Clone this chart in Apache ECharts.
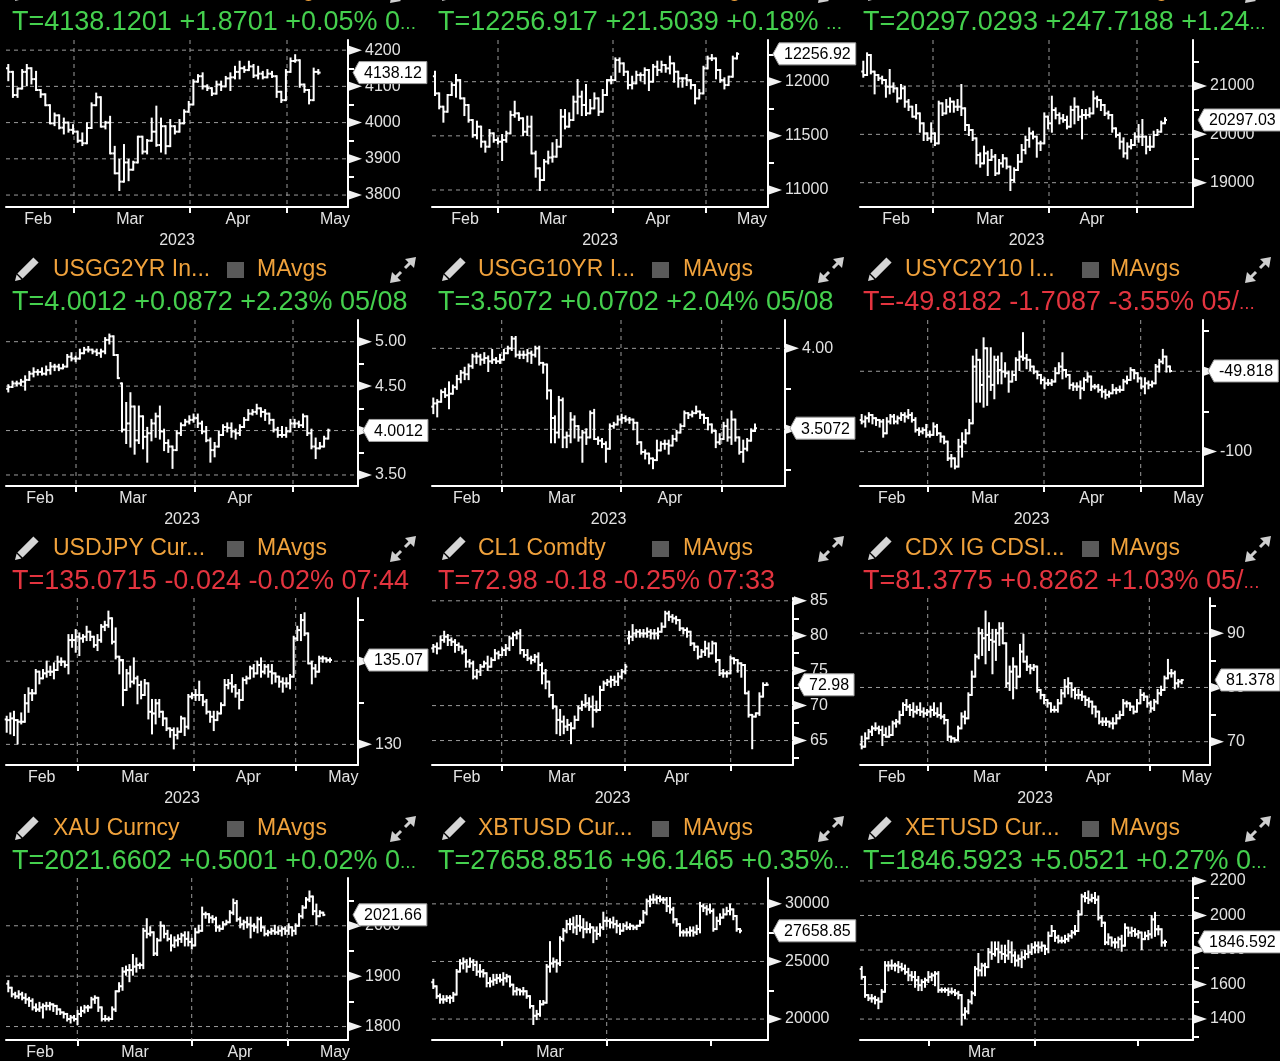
<!DOCTYPE html>
<html><head><meta charset="utf-8">
<script src="https://cdn.jsdelivr.net/npm/echarts@6/dist/echarts.min.js"></script>
<style>html,body{margin:0;padding:0;background:#000;overflow:hidden}#c{width:1280px;height:1061px}</style>
</head><body><div id="c"></div>
<script>
// ===== DATA: daily bars [open, high, low, close] =====
const spxBars = [[4150,4159,4117,4140],[4140,4140,4071,4076],[4076,4094,4071,4094],[4094,4145,4094,4140],[4140,4159,4103,4150],[4150,4150,4108,4120],[4120,4140,4090,4090],[4090,4090,4071,4078],[4078,4078,4048,4048],[4048,4048,3998,3998],[3998,4025,3993,4020],[4020,4020,3984,3986],[3986,4011,3970,4000],[4000,4000,3975,3980],[3980,3993,3970,3975],[3975,3975,3947,3950],[3950,3970,3938,3943],[3943,3998,3943,3985],[3985,4053,3985,4048],[4048,4080,4048,4070],[4070,4070,3989,3989],[3989,4002,3984,4000],[4000,4016,3915,3915],[3915,3933,3860,3860],[3860,3897,3814,3837],[3837,3938,3837,3890],[3890,3897,3841,3870],[3870,3892,3870,3890],[3890,3961,3890,3961],[3961,3961,3915,3920],[3920,3952,3915,3950],[3950,4011,3950,3975],[3975,4044,3936,3938],[3938,4011,3920,3990],[3990,3990,3915,3935],[3935,4007,3935,3990],[3990,3990,3970,3975],[3975,4007,3975,3998],[3998,4034,3998,4030],[4030,4057,4030,4050],[4050,4117,4050,4113],[4113,4131,4113,4128],[4128,4136,4094,4100],[4100,4103,4090,4095],[4095,4095,4076,4080],[4080,4113,4080,4105],[4105,4113,4090,4100],[4100,4126,4100,4122],[4122,4136,4090,4125],[4125,4154,4122,4140],[4140,4168,4122,4150],[4150,4154,4140,4145],[4145,4168,4145,4155],[4155,4159,4126,4130],[4130,4154,4122,4135],[4135,4140,4122,4125],[4125,4145,4125,4135],[4135,4140,4126,4128],[4128,4128,4071,4085],[4085,4085,4057,4062],[4062,4145,4062,4140],[4140,4177,4140,4170],[4170,4186,4168,4172],[4172,4172,4099,4105],[4105,4105,4085,4090],[4090,4090,4053,4062],[4062,4149,4062,4140],[4140,4145,4135,4138]];
const ccmpBars = [[12050,12092,11877,11892],[11892,11892,11754,11769],[11769,11769,11631,11723],[11723,11877,11723,11877],[11877,11985,11877,11969],[11969,12062,11862,12015],[12015,12015,11846,11846],[11846,11846,11692,11785],[11785,11785,11631,11646],[11646,11646,11492,11508],[11508,11631,11477,11585],[11585,11585,11400,11446],[11446,11446,11354,11400],[11400,11554,11400,11523],[11523,11523,11446,11462],[11462,11477,11431,11446],[11446,11508,11277,11462],[11462,11538,11446,11523],[11523,11723,11523,11692],[11692,11815,11677,11708],[11708,11708,11646,11662],[11662,11662,11508,11538],[11538,11677,11508,11585],[11585,11677,11338,11338],[11338,11354,11123,11200],[11200,11200,11000,11092],[11092,11277,11092,11262],[11262,11354,11246,11300],[11300,11431,11262,11308],[11308,11462,11308,11400],[11400,11738,11400,11677],[11677,11738,11569,11585],[11585,11708,11585,11646],[11646,11862,11646,11815],[11815,12015,11708,11862],[11862,11908,11692,11785],[11785,11969,11692,11708],[11708,11831,11708,11754],[11754,11892,11754,11846],[11846,11846,11692,11723],[11723,11923,11723,11877],[11877,12015,11877,12015],[12015,12046,11985,12015],[12015,12215,12015,12200],[12200,12215,12092,12169],[12169,12169,12062,12092],[12092,12092,11938,11969],[11969,12046,11938,11985],[11985,12092,11985,12062],[12062,12077,12015,12062],[12062,12123,11985,12108],[12108,12108,11923,12000],[12000,12154,12000,12138],[12138,12185,12062,12108],[12108,12185,12092,12154],[12154,12154,12092,12123],[12123,12231,12077,12169],[12169,12169,12000,12092],[12092,12092,11954,12031],[12031,12031,11954,12031],[12031,12062,11969,12015],[12015,12015,11938,11969],[11969,11969,11800,11846],[11846,11923,11846,11892],[11892,12138,11892,12123],[12123,12231,12123,12215],[12215,12246,12200,12215],[12215,12215,12031,12108],[12108,12108,11999,12015],[12015,12031,11938,11969],[11969,12046,11969,12046],[12046,12231,12046,12215],[12215,12262,12215,12257]];
const hsiBars = [[21300,21503,21193,21228],[21228,21676,21400,21641],[21641,21607,21262,21297],[21297,21297,20848,21228],[21228,21228,21124,21159],[21159,21193,21055,21124],[21124,21090,20779,20986],[20986,21331,20848,20986],[20986,21055,20883,20952],[20952,20917,20676,20745],[20745,21021,20745,20952],[20952,20986,20572,20676],[20676,20710,20503,20572],[20572,20572,20366,20366],[20366,20607,20331,20434],[20434,20262,20055,20228],[20228,20159,19883,20021],[20021,20021,19883,19917],[19917,20228,19848,20021],[20021,20021,19779,19814],[19814,20676,19814,20641],[20641,20641,20400,20434],[20434,20710,20503,20572],[20572,20745,20469,20676],[20676,20676,20469,20572],[20572,20710,20503,20572],[20572,21021,20400,20538],[20538,20262,20090,20193],[20193,20193,19986,20090],[20090,20090,19883,19917],[19917,19641,19400,19572],[19572,19607,19331,19400],[19400,19745,19469,19607],[19607,19641,19159,19469],[19469,19676,19503,19538],[19538,19572,19159,19193],[19193,19469,19193,19400],[19400,19572,19331,19503],[19503,19503,19297,19331],[19331,19331,18848,19055],[19055,19297,19021,19262],[19262,19572,19400,19434],[19434,19779,19503,19676],[19676,19952,19607,19883],[19883,20124,19745,20021],[20021,20055,19917,19952],[19952,19952,19538,19814],[19814,19848,19676,19814],[19814,20434,20228,20366],[20366,20331,20124,20228],[20228,20779,20055,20503],[20503,20538,20331,20400],[20400,20434,20228,20331],[20331,20400,20262,20297],[20297,20366,20124,20159],[20159,20572,20331,20503],[20503,20745,20228,20572],[20572,20400,20297,20366],[20366,20503,19917,20400],[20400,20503,20331,20400],[20400,20538,20366,20434],[20434,20883,20434,20745],[20745,20779,20572,20710],[20710,20641,20503,20607],[20607,20572,20400,20434],[20434,20469,20331,20400],[20400,20262,20055,20124],[20124,20124,19952,19986],[19986,20021,19710,19848],[19848,19917,19538,19607],[19607,19814,19503,19745],[19745,19883,19710,19779],[19779,20021,19883,19952],[19952,20193,19848,19952],[19952,20297,19779,19952],[19952,19952,19607,19745],[19745,19952,19676,19745],[19745,20055,19883,19986],[19986,20090,19986,20055],[20055,20262,20090,20228],[20228,20331,20297,20297]];
const usgg2Bars = [[4.47,4.51,4.44,4.49],[4.49,4.55,4.49,4.53],[4.53,4.55,4.51,4.53],[4.53,4.57,4.51,4.55],[4.55,4.61,4.46,4.57],[4.57,4.66,4.59,4.64],[4.64,4.70,4.61,4.66],[4.66,4.68,4.63,4.66],[4.66,4.70,4.63,4.64],[4.64,4.72,4.63,4.68],[4.68,4.76,4.64,4.72],[4.72,4.74,4.68,4.72],[4.72,4.74,4.68,4.70],[4.70,4.74,4.70,4.72],[4.72,4.85,4.74,4.83],[4.83,4.87,4.79,4.81],[4.81,4.83,4.78,4.81],[4.81,4.91,4.81,4.87],[4.87,4.93,4.87,4.91],[4.91,4.94,4.89,4.91],[4.91,4.91,4.87,4.89],[4.89,4.91,4.85,4.87],[4.87,4.91,4.83,4.89],[4.89,5.04,4.87,5.02],[5.02,5.08,4.98,5.06],[5.06,5.06,4.85,4.85],[4.85,4.85,4.59,4.59],[4.53,4.53,3.99,4.01],[4.01,4.31,3.86,4.08],[4.08,4.42,3.82,4.27],[4.27,4.04,3.74,3.89],[3.89,4.27,3.86,4.16],[4.16,4.16,3.80,3.93],[3.93,4.03,3.65,3.97],[3.97,4.12,3.89,4.08],[4.08,4.19,3.93,4.16],[4.16,4.27,3.91,3.99],[3.99,4.01,3.78,3.86],[3.86,3.89,3.76,3.82],[3.82,3.82,3.58,3.78],[3.78,3.99,3.78,3.97],[3.97,4.08,3.95,4.06],[4.06,4.12,4.06,4.10],[4.10,4.16,4.08,4.12],[4.12,4.18,4.10,4.14],[4.14,4.18,4.04,4.08],[4.08,4.10,3.97,3.99],[3.99,4.04,3.88,3.89],[3.89,3.91,3.65,3.78],[3.78,3.86,3.71,3.82],[3.82,3.99,3.82,3.95],[3.95,4.06,3.95,4.04],[4.04,4.08,3.99,4.03],[4.03,4.08,3.93,3.99],[3.99,4.01,3.91,3.97],[3.97,4.06,3.95,4.04],[4.04,4.14,4.04,4.12],[4.12,4.23,4.12,4.19],[4.19,4.23,4.18,4.21],[4.21,4.29,4.19,4.25],[4.25,4.25,4.16,4.21],[4.21,4.23,4.12,4.19],[4.19,4.19,4.08,4.12],[4.12,4.12,3.99,4.01],[4.01,4.03,3.93,3.95],[3.95,4.04,3.93,3.95],[3.95,4.03,3.93,3.99],[3.99,4.12,3.99,4.08],[4.08,4.12,4.04,4.08],[4.08,4.10,4.04,4.06],[4.06,4.18,4.04,4.16],[4.16,4.16,3.95,3.97],[3.97,4.01,3.80,3.82],[3.82,3.91,3.69,3.80],[3.80,3.86,3.80,3.82],[3.82,3.93,3.82,3.91],[3.91,4.01,3.91,4.0012]];
const usgg10Bars = [[3.64,3.69,3.60,3.66],[3.66,3.68,3.58,3.67],[3.67,3.74,3.67,3.73],[3.73,3.75,3.70,3.71],[3.71,3.79,3.63,3.72],[3.72,3.77,3.72,3.76],[3.76,3.83,3.75,3.81],[3.81,3.86,3.79,3.85],[3.85,3.88,3.81,3.84],[3.84,3.90,3.81,3.89],[3.89,3.96,3.88,3.95],[3.95,3.97,3.91,3.95],[3.95,3.96,3.90,3.93],[3.93,3.97,3.91,3.94],[3.94,3.95,3.86,3.92],[3.92,3.99,3.91,3.93],[3.93,3.94,3.91,3.92],[3.92,3.96,3.91,3.93],[3.93,3.99,3.93,3.97],[3.97,4.01,3.97,4.00],[4.00,4.07,3.99,4.06],[4.06,4.07,3.95,3.96],[3.96,3.98,3.94,3.96],[3.96,3.98,3.94,3.96],[3.96,3.99,3.92,3.97],[3.97,3.98,3.91,3.96],[3.96,4.01,3.95,4.00],[4.00,4.01,3.90,3.91],[3.91,3.91,3.85,3.90],[3.90,3.76,3.69,3.74],[3.74,3.70,3.42,3.57],[3.57,3.58,3.42,3.48],[3.48,3.70,3.45,3.68],[3.68,3.69,3.39,3.45],[3.45,3.48,3.39,3.46],[3.46,3.60,3.42,3.56],[3.56,3.58,3.45,3.52],[3.52,3.52,3.43,3.45],[3.45,3.49,3.30,3.48],[3.48,3.50,3.41,3.45],[3.45,3.61,3.45,3.60],[3.60,3.62,3.44,3.44],[3.44,3.45,3.41,3.43],[3.43,3.44,3.39,3.41],[3.41,3.42,3.30,3.38],[3.38,3.53,3.38,3.52],[3.52,3.54,3.51,3.53],[3.53,3.58,3.53,3.56],[3.56,3.59,3.54,3.57],[3.57,3.58,3.55,3.56],[3.56,3.57,3.54,3.56],[3.56,3.56,3.50,3.54],[3.54,3.54,3.41,3.42],[3.42,3.42,3.35,3.36],[3.36,3.37,3.32,3.35],[3.35,3.35,3.29,3.32],[3.32,3.32,3.26,3.31],[3.31,3.43,3.31,3.37],[3.37,3.42,3.37,3.41],[3.41,3.43,3.38,3.41],[3.41,3.43,3.35,3.40],[3.40,3.46,3.40,3.44],[3.44,3.49,3.43,3.48],[3.48,3.53,3.48,3.52],[3.52,3.61,3.52,3.60],[3.60,3.60,3.57,3.59],[3.59,3.61,3.58,3.60],[3.60,3.64,3.60,3.61],[3.61,3.61,3.57,3.59],[3.59,3.59,3.54,3.57],[3.57,3.57,3.50,3.53],[3.53,3.53,3.48,3.49],[3.49,3.49,3.39,3.42],[3.42,3.47,3.41,3.44],[3.44,3.54,3.44,3.52],[3.52,3.56,3.43,3.45],[3.45,3.61,3.41,3.56],[3.56,3.56,3.43,3.45],[3.45,3.45,3.35,3.36],[3.36,3.43,3.30,3.38],[3.38,3.44,3.37,3.43],[3.43,3.50,3.43,3.49],[3.49,3.53,3.49,3.5072]];
const usycBars = [[-80.3,-77.2,-82.4,-81.3],[-81.3,-78.2,-84.4,-79.2],[-79.2,-76.1,-81.3,-77.2],[-77.2,-77.2,-82.4,-79.2],[-79.2,-79.2,-83.4,-80.3],[-80.3,-80.3,-84.4,-81.3],[-81.3,-80.3,-90.7,-88.6],[-88.6,-79.2,-87.5,-81.3],[-81.3,-77.2,-82.4,-78.2],[-78.2,-77.2,-82.4,-81.3],[-81.3,-78.2,-82.4,-79.2],[-79.2,-76.1,-80.3,-77.2],[-77.2,-76.1,-81.3,-78.2],[-78.2,-74.1,-79.2,-77.2],[-77.2,-76.1,-81.3,-80.3],[-80.3,-79.2,-87.5,-86.5],[-86.5,-85.5,-89.6,-87.5],[-87.5,-85.5,-88.6,-86.5],[-86.5,-83.4,-90.7,-89.6],[-89.6,-87.5,-90.7,-89.6],[-89.6,-82.4,-89.6,-84.4],[-84.4,-83.4,-89.6,-88.6],[-88.6,-88.6,-93.8,-90.7],[-90.7,-90.7,-94.8,-93.8],[-93.8,-93.8,-105.2,-104.2],[-104.2,-102.1,-109.3,-104.2],[-104.2,-104.2,-110.4,-109.3],[-109.3,-92.7,-106.2,-96.9],[-96.9,-88.6,-103.1,-93.8],[-93.8,-86.5,-94.8,-88.6],[-88.6,-80.3,-88.6,-82.4],[-82.4,-40.9,-82.4,-47.1],[-47.1,-36.7,-68.9,-42.9],[-42.9,-54.4,-68.9,-58.5],[-58.5,-29.5,-72.0,-35.7],[-35.7,-39.8,-70.9,-53.3],[-53.3,-35.7,-61.6,-58.5],[-58.5,-40.9,-66.8,-42.9],[-42.9,-40.9,-57.5,-49.2],[-49.2,-38.8,-57.5,-50.2],[-50.2,-45.0,-53.3,-51.2],[-51.2,-50.2,-62.7,-56.4],[-56.4,-50.2,-55.4,-52.3],[-52.3,-41.9,-55.4,-42.9],[-42.9,-37.8,-49.2,-40.9],[-40.9,-26.3,-42.9,-41.9],[-41.9,-39.8,-48.1,-42.9],[-42.9,-44.0,-49.2,-47.1],[-47.1,-47.1,-51.2,-50.2],[-50.2,-50.2,-54.4,-52.3],[-52.3,-52.3,-57.5,-55.4],[-55.4,-54.4,-60.6,-57.5],[-57.5,-55.4,-58.5,-57.5],[-57.5,-55.4,-58.5,-56.4],[-56.4,-48.1,-54.4,-51.2],[-51.2,-45.0,-51.2,-47.1],[-47.1,-38.8,-54.4,-49.2],[-49.2,-50.2,-53.3,-52.3],[-52.3,-56.4,-60.6,-58.5],[-58.5,-57.5,-61.6,-59.5],[-59.5,-57.5,-61.6,-59.5],[-59.5,-56.4,-66.8,-60.6],[-60.6,-54.4,-61.6,-55.4],[-55.4,-51.2,-56.4,-53.3],[-53.3,-54.4,-61.6,-59.5],[-59.5,-58.5,-60.6,-59.5],[-59.5,-58.5,-62.7,-61.6],[-61.6,-59.5,-65.8,-62.7],[-62.7,-61.6,-66.8,-64.7],[-64.7,-62.7,-65.8,-63.7],[-63.7,-58.5,-63.7,-61.6],[-61.6,-60.6,-63.7,-61.6],[-61.6,-59.5,-62.7,-61.6],[-61.6,-55.4,-60.6,-56.4],[-56.4,-53.3,-57.5,-55.4],[-55.4,-48.1,-53.3,-49.2],[-49.2,-49.2,-54.4,-51.2],[-51.2,-51.2,-56.4,-54.4],[-54.4,-54.4,-60.6,-59.5],[-59.5,-54.4,-63.7,-57.5],[-57.5,-56.4,-60.6,-58.5],[-58.5,-56.4,-59.5,-57.5],[-57.5,-46.1,-57.5,-47.1],[-47.1,-42.9,-50.2,-44.0],[-44.0,-36.7,-45.0,-40.9],[-40.9,-41.9,-50.2,-47.1],[-47.1,-48.1,-50.2,-49.8]];
const jpyBars = [[131.50,131.66,130.76,131.46],[131.46,131.86,130.66,131.56],[131.56,131.96,130.56,131.46],[131.46,131.46,130.06,131.36],[131.36,131.86,131.26,131.36],[131.36,132.97,131.66,132.47],[132.47,133.37,131.96,133.07],[133.07,133.27,132.67,133.07],[133.07,134.47,133.47,134.37],[134.37,134.07,133.67,133.97],[133.97,134.47,134.07,134.27],[134.27,134.97,134.07,134.37],[134.37,134.67,134.17,134.37],[134.37,134.87,133.97,134.47],[134.47,135.27,134.67,134.97],[134.97,135.17,134.77,134.97],[134.97,134.97,134.67,134.77],[134.77,136.57,134.27,136.27],[136.27,136.57,135.87,136.27],[136.27,136.87,135.57,136.47],[136.47,136.67,135.37,136.37],[136.37,136.57,136.17,136.47],[136.47,137.07,136.27,136.77],[136.77,136.77,136.27,136.47],[136.47,136.27,135.87,135.97],[135.97,136.57,135.67,136.27],[136.27,137.17,136.17,137.07],[137.07,137.37,136.87,137.17],[137.17,137.98,137.07,137.58],[137.58,137.47,136.07,136.17],[136.17,136.97,135.17,135.27],[135.27,135.17,134.27,135.07],[135.07,135.07,132.36,133.27],[133.27,134.47,133.27,134.27],[134.27,134.67,133.47,133.77],[133.77,135.17,133.67,133.97],[133.97,134.07,132.47,133.57],[133.57,133.77,132.77,132.97],[132.97,133.87,133.27,133.67],[133.67,132.47,131.56,131.96],[131.96,132.67,130.66,131.86],[131.86,132.67,131.26,132.47],[132.47,132.67,131.66,131.96],[131.96,131.96,131.16,131.56],[131.56,131.56,130.86,130.96],[130.96,130.96,130.46,130.86],[130.86,130.96,129.76,130.56],[130.56,130.96,130.36,130.76],[130.76,131.66,131.06,131.56],[131.56,131.56,130.56,131.06],[131.06,132.97,130.96,132.87],[132.87,133.07,132.77,132.97],[132.97,133.27,132.67,132.97],[132.97,133.77,132.67,132.97],[132.97,132.97,132.36,132.57],[132.57,132.67,131.86,131.96],[131.96,131.96,131.36,131.66],[131.66,131.96,130.86,131.46],[131.46,131.96,131.56,131.86],[131.86,132.47,131.96,132.36],[132.36,133.87,132.77,133.57],[133.57,133.87,133.37,133.67],[133.67,134.17,133.17,133.47],[133.47,133.57,132.87,133.07],[133.07,133.27,132.16,132.67],[132.67,133.97,133.57,133.87],[133.87,134.07,133.67,133.97],[133.97,134.67,134.07,134.57],[134.57,134.77,134.07,134.27],[134.27,134.97,134.57,134.77],[134.77,135.17,134.07,134.37],[134.37,134.77,134.27,134.67],[134.67,134.77,134.07,134.37],[134.37,134.77,133.67,134.27],[134.27,134.27,133.77,134.07],[134.07,134.07,133.47,133.77],[133.77,133.97,133.17,133.67],[133.67,133.97,133.47,133.67],[133.67,134.17,133.37,134.07],[134.07,136.47,134.07,136.37],[136.37,137.07,136.27,136.87],[136.87,137.78,136.27,137.47],[137.47,137.88,136.57,136.67],[136.67,136.67,134.87,134.87],[134.87,134.97,133.67,134.57],[134.57,134.77,134.07,134.37],[134.37,135.27,134.67,135.17],[135.17,135.27,134.97,135.17],[135.17,135.17,134.97,135.07],[135.07,135.17,134.97,135.07]];
const cl1Bars = [[78.20,78.67,77.71,78.43],[78.43,78.90,77.48,78.19],[78.19,79.86,78.67,79.38],[79.38,80.57,79.14,79.86],[79.86,80.10,78.67,79.38],[79.38,79.62,78.67,79.14],[79.14,79.38,77.71,78.67],[78.67,78.90,77.95,78.43],[78.43,78.43,77.48,77.71],[77.71,77.95,75.57,76.29],[76.29,76.52,75.57,76.05],[76.05,76.29,73.90,74.14],[74.14,75.10,73.90,74.86],[74.86,75.81,74.38,75.57],[75.57,76.29,75.57,76.05],[76.05,77.00,75.10,75.57],[75.57,76.76,75.81,76.52],[76.52,77.95,76.52,77.48],[77.48,77.71,76.76,77.24],[77.24,78.19,77.24,77.95],[77.95,78.67,77.24,78.19],[78.19,79.86,77.95,79.62],[79.62,80.33,78.67,80.10],[80.10,80.57,79.62,80.33],[80.33,80.81,77.48,77.95],[77.95,77.95,77.00,77.24],[77.24,77.95,76.52,76.76],[76.76,77.00,76.05,76.52],[76.52,77.24,76.29,77.00],[77.00,77.48,75.10,75.81],[75.81,76.05,73.19,74.62],[74.62,75.10,72.48,73.43],[73.43,73.19,71.29,71.52],[71.52,71.52,69.62,69.86],[69.86,69.86,66.05,67.95],[67.95,69.38,65.81,67.71],[67.71,68.43,66.05,67.00],[67.00,67.95,66.52,67.24],[67.24,67.48,64.62,66.76],[66.76,68.43,67.00,67.95],[67.95,69.86,68.90,69.62],[69.62,70.57,69.38,70.10],[70.10,71.52,69.86,70.33],[70.33,71.05,69.38,69.86],[69.86,71.29,67.00,69.38],[69.38,70.57,69.14,69.38],[69.38,72.71,70.57,72.24],[72.24,73.43,72.71,73.19],[73.19,73.67,72.95,73.43],[73.43,74.14,72.71,73.67],[73.67,74.14,72.95,73.43],[73.43,74.62,72.95,74.14],[74.14,75.10,73.90,74.86],[74.86,75.81,74.62,75.57],[79.62,80.57,78.90,79.86],[79.86,81.52,79.38,80.33],[80.33,80.81,79.86,80.57],[80.57,80.81,79.86,80.33],[80.33,80.81,79.86,80.33],[80.33,81.05,79.86,80.57],[80.57,80.81,79.62,80.33],[80.33,80.81,79.62,80.33],[80.33,81.05,79.62,80.57],[80.57,81.76,80.57,81.29],[81.29,83.43,81.52,83.19],[83.19,83.43,82.24,82.71],[82.71,82.95,82.00,82.48],[82.48,82.71,81.76,82.24],[82.24,82.00,80.81,81.05],[81.05,81.05,80.33,80.81],[80.81,81.05,79.86,80.57],[80.57,79.38,78.67,78.90],[78.90,78.90,77.95,78.43],[78.43,77.71,76.76,77.00],[77.00,77.95,77.00,77.71],[77.71,79.14,77.24,78.19],[78.19,78.90,77.00,77.48],[77.48,79.14,77.48,78.90],[78.90,77.71,76.29,76.52],[76.52,76.52,74.38,74.62],[74.62,75.10,74.14,74.62],[74.62,74.86,74.14,74.62],[74.62,77.00,75.10,76.76],[76.76,76.76,76.05,76.52],[76.52,76.29,74.86,76.05],[76.05,76.05,74.14,75.81],[75.81,75.81,71.76,71.76],[71.76,72.00,68.43,68.67],[68.67,68.67,63.90,68.43],[68.43,68.90,68.67,68.90],[68.90,71.76,68.67,71.29],[71.29,73.19,71.52,72.95],[72.95,73.19,72.95,72.98]];
const cdxBars = [[69.50,70.92,68.77,69.08],[69.08,71.54,69.08,70.62],[70.62,72.15,70.62,71.85],[71.85,72.77,71.23,72.46],[72.46,73.38,72.15,72.46],[72.46,72.77,71.54,72.15],[72.15,72.77,69.38,71.23],[71.23,72.46,70.92,70.92],[70.92,72.77,70.92,71.23],[71.23,73.69,71.23,73.38],[73.38,74.00,72.77,73.69],[73.69,75.54,73.38,74.92],[74.92,77.08,74.92,76.77],[76.77,77.69,75.85,76.46],[76.46,76.77,74.92,75.85],[75.85,77.08,74.62,75.54],[75.54,76.46,75.23,75.85],[75.85,77.08,74.92,75.54],[75.54,76.15,74.62,75.23],[75.23,75.85,74.92,75.54],[75.54,76.46,74.62,75.85],[75.85,77.08,74.92,75.23],[75.23,76.15,74.62,74.92],[74.92,77.08,74.31,74.62],[74.62,74.92,73.38,74.00],[74.00,71.54,70.31,70.92],[70.92,70.92,70.00,70.62],[70.62,70.62,70.00,70.31],[70.31,72.77,70.31,72.46],[72.46,75.23,72.77,74.62],[74.62,75.54,73.38,74.31],[74.31,78.92,74.62,78.62],[78.62,82.92,78.62,82.00],[82.00,86.00,82.00,85.69],[85.69,90.92,85.38,90.00],[90.00,90.62,86.00,89.08],[89.08,94.00,84.46,89.69],[89.69,91.85,86.92,88.77],[88.77,90.62,82.62,88.46],[88.46,90.62,85.08,90.00],[90.00,91.85,87.85,90.92],[90.92,91.85,88.15,88.15],[88.15,85.08,80.15,80.77],[80.77,83.85,79.54,82.92],[82.92,85.38,78.00,83.85],[83.85,83.54,79.85,82.00],[82.00,87.85,83.23,86.62],[86.62,89.69,84.77,84.77],[84.77,85.69,83.23,83.85],[83.85,84.15,82.62,83.54],[83.54,84.15,83.23,83.85],[83.85,82.62,79.23,79.54],[79.54,79.54,78.00,78.62],[78.62,78.62,77.08,77.69],[77.69,77.69,76.46,77.08],[77.08,77.08,75.54,75.85],[75.85,76.46,75.54,75.85],[75.85,77.69,75.54,77.08],[77.08,79.54,77.08,78.92],[78.92,81.38,78.31,80.15],[80.15,81.69,78.92,80.77],[80.77,80.77,78.31,79.54],[79.54,79.85,78.00,78.62],[78.62,79.54,78.00,78.62],[78.62,79.23,77.69,78.31],[78.31,78.31,76.77,77.69],[77.69,78.00,76.46,77.38],[77.38,77.38,75.23,76.46],[76.46,76.46,74.62,75.54],[75.54,74.62,73.38,73.69],[73.69,74.31,73.08,73.69],[73.69,74.31,73.08,73.69],[73.69,73.69,72.77,73.38],[73.38,74.31,72.46,73.38],[73.38,74.92,73.69,74.31],[74.31,75.54,74.31,74.92],[74.92,77.69,76.15,77.08],[77.08,77.38,76.46,77.08],[77.08,77.08,75.85,76.46],[76.46,76.15,75.23,75.54],[75.54,77.69,75.54,77.08],[77.08,79.54,78.00,78.62],[78.62,78.92,77.69,78.31],[78.31,78.00,76.46,77.08],[77.08,77.38,75.54,76.15],[76.15,77.69,75.85,77.38],[77.38,79.54,77.08,78.92],[78.92,80.15,78.62,79.54],[79.54,82.00,79.54,81.69],[81.69,85.08,82.00,82.62],[82.62,83.23,82.00,82.62],[82.62,82.92,79.85,80.77],[80.77,81.38,80.15,81.08],[81.08,81.38,80.77,81.38]];
const xauBars = [[1885,1890,1870,1877],[1877,1873,1860,1864],[1864,1867,1857,1860],[1860,1870,1857,1864],[1864,1867,1854,1857],[1857,1864,1847,1854],[1854,1857,1841,1851],[1851,1854,1834,1838],[1838,1844,1831,1834],[1834,1847,1831,1838],[1838,1844,1818,1841],[1841,1847,1834,1841],[1841,1847,1834,1844],[1844,1844,1831,1841],[1841,1841,1825,1834],[1834,1834,1825,1828],[1828,1828,1818,1825],[1825,1821,1812,1815],[1815,1821,1808,1818],[1818,1821,1812,1815],[1815,1831,1805,1825],[1825,1838,1821,1831],[1831,1841,1828,1838],[1838,1841,1831,1838],[1838,1857,1841,1854],[1854,1860,1847,1857],[1857,1854,1831,1838],[1838,1838,1812,1815],[1815,1821,1812,1815],[1815,1818,1812,1815],[1815,1838,1815,1834],[1834,1870,1831,1870],[1870,1886,1870,1880],[1880,1916,1873,1909],[1909,1919,1903,1912],[1912,1922,1890,1912],[1912,1942,1903,1919],[1919,1935,1909,1922],[1922,1925,1916,1922],[1922,1994,1916,1990],[1990,2013,1977,1984],[1984,1997,1981,1987],[1987,1987,1942,1945],[1945,1974,1942,1971],[1971,2007,1984,2000],[2000,2000,1977,1984],[1984,1990,1971,1974],[1974,1981,1951,1961],[1961,1977,1958,1971],[1971,1981,1961,1974],[1974,1984,1968,1981],[1981,1987,1961,1974],[1974,1987,1961,1968],[1968,1974,1955,1961],[1961,1994,1964,1987],[1987,2000,1987,1990],[1990,2036,1997,2023],[2023,2026,2016,2023],[2023,2023,2007,2016],[2016,2019,2007,2013],[2013,2016,1990,1997],[1997,2000,1990,1994],[1994,2007,1994,2003],[2003,2010,2003,2007],[2007,2029,2007,2026],[2026,2052,2023,2045],[2045,2049,2010,2013],[2013,2016,1997,2003],[2003,2010,1994,2007],[2007,2016,1997,2003],[2003,2016,1977,2000],[2000,2003,1990,1997],[1997,2016,1987,2013],[2013,2016,1990,1997],[1997,1997,1981,1984],[1984,1990,1981,1987],[1987,1994,1984,1990],[1990,2000,1984,1987],[1987,1997,1984,1990],[1990,1997,1981,1994],[1994,1997,1984,1990],[1990,2003,1984,1997],[1997,1997,1981,1990],[1990,2003,1984,2000],[2000,2023,2000,2019],[2019,2039,2016,2036],[2036,2055,2036,2052],[2052,2068,2049,2058],[2058,2058,2023,2029],[2029,2042,2003,2019],[2019,2029,2019,2026],[2026,2026,2021,2021.66]];
const xbtBars = [[23200,23409,22699,22841],[22841,22841,21847,21989],[21989,22131,21420,21705],[21705,21989,21420,21705],[21705,21989,21562,21847],[21847,21989,21420,21847],[21847,22273,21562,22131],[22131,24261,22131,24119],[24119,25114,24119,24830],[24830,25256,24403,24972],[24972,25114,24119,24545],[24545,25256,24545,24972],[24972,25114,24261,24688],[24688,24972,23835,24119],[24119,24688,23693,24119],[24119,24261,23693,23977],[23977,23977,22841,23125],[23125,23551,22841,23267],[23267,23835,22983,23409],[23409,23835,23125,23551],[23551,23835,23267,23409],[23409,23977,22983,23551],[23551,23835,23267,23693],[23693,23693,22841,22983],[22983,22699,22131,22415],[22415,22699,22131,22557],[22557,22557,22131,22415],[22415,22699,22131,22415],[22415,22415,21847,21989],[21989,21989,20994,21136],[21136,20994,19574,20284],[20284,20710,20000,20426],[20426,21562,20284,21278],[21278,21562,21278,21420],[21420,24688,21420,24545],[24545,26676,24119,24830],[24830,25256,24545,24972],[24972,25114,24119,24830],[24830,27102,24688,26960],[26960,27812,26818,27670],[27670,28523,27528,28239],[28239,28665,27812,28239],[28239,28807,27528,27955],[27955,28949,27386,28097],[28097,28949,27670,27955],[27955,28665,27102,27812],[27812,28381,27528,27812],[27812,28239,27528,27955],[27955,27812,26676,27670],[27670,27955,26960,27386],[27386,28239,27244,27955],[27955,29233,27812,28523],[28523,28807,28097,28523],[28523,28665,27955,28381],[28381,28807,27955,28239],[28239,28523,27528,28097],[28097,28239,27386,27670],[27670,28239,27812,28097],[28097,28381,27812,27955],[27955,28239,27812,28097],[28097,28097,27812,27955],[27955,28097,27812,28097],[28097,28523,28097,28381],[28381,29375,28523,29233],[29233,30369,29091,30227],[30227,30653,29801,30369],[30369,30795,30085,30369],[30369,30653,30085,30511],[30511,30653,30227,30369],[30369,30511,30085,30369],[30369,30511,29375,29801],[29801,30511,29233,29517],[29517,29659,28381,28665],[28665,28523,28097,28239],[28239,28097,27244,27528],[27528,27670,27244,27528],[27528,27812,27244,27528],[27528,27955,27244,27670],[27670,27955,27244,27528],[27528,28097,27386,27812],[27812,30085,27528,29801],[29801,29943,29375,29659],[29659,29801,29091,29517],[29517,29943,29233,29375],[29375,29517,27670,27812],[27812,28807,27812,28523],[28523,29091,28239,28807],[28807,29517,28807,29091],[29091,29659,29091,29375],[29375,29943,29091,29517],[29517,29233,28665,28949],[28949,28949,27670,27812],[27812,27670,27528,27659]];
const xetBars = [[1690,1701,1634,1644],[1644,1644,1529,1539],[1539,1539,1510,1520],[1520,1539,1501,1520],[1520,1529,1491,1510],[1510,1520,1463,1501],[1501,1568,1510,1558],[1558,1730,1558,1710],[1710,1730,1682,1710],[1710,1739,1691,1710],[1710,1720,1682,1710],[1710,1730,1672,1701],[1701,1720,1682,1691],[1691,1710,1663,1672],[1672,1691,1625,1653],[1653,1672,1625,1644],[1644,1672,1587,1625],[1625,1644,1568,1596],[1596,1625,1568,1615],[1615,1634,1587,1625],[1625,1672,1615,1644],[1644,1663,1625,1653],[1653,1672,1596,1663],[1663,1672,1558,1568],[1568,1577,1558,1568],[1568,1577,1558,1568],[1568,1577,1539,1558],[1558,1577,1549,1558],[1558,1568,1539,1549],[1549,1558,1520,1539],[1539,1539,1368,1425],[1425,1463,1406,1444],[1444,1510,1434,1501],[1501,1558,1491,1549],[1549,1701,1539,1691],[1691,1777,1653,1682],[1682,1720,1653,1710],[1710,1720,1653,1701],[1701,1806,1710,1787],[1787,1844,1749,1777],[1777,1844,1768,1806],[1806,1844,1730,1787],[1787,1825,1749,1777],[1777,1825,1730,1768],[1768,1853,1749,1787],[1787,1844,1730,1768],[1768,1787,1710,1739],[1739,1768,1710,1749],[1749,1787,1701,1758],[1758,1796,1749,1777],[1777,1825,1758,1787],[1787,1834,1777,1815],[1815,1844,1787,1825],[1825,1844,1787,1815],[1815,1844,1796,1825],[1825,1825,1777,1806],[1806,1901,1787,1882],[1882,1939,1882,1910],[1910,1910,1853,1872],[1872,1882,1844,1853],[1853,1872,1844,1853],[1853,1882,1844,1863],[1863,1891,1853,1882],[1882,1910,1872,1901],[1901,1939,1891,1910],[1910,2025,1920,2006],[2006,2120,2006,2110],[2110,2130,2082,2101],[2101,2139,2072,2091],[2091,2120,2082,2101],[2101,2130,2072,2091],[2091,2110,1977,1987],[1987,1996,1939,1958],[1958,1958,1834,1844],[1844,1891,1834,1872],[1872,1872,1825,1844],[1844,1863,1815,1844],[1844,1872,1815,1863],[1863,1882,1796,1825],[1825,1949,1834,1929],[1929,1929,1882,1901],[1901,1929,1882,1910],[1910,1920,1882,1891],[1891,1910,1872,1901],[1901,1891,1806,1863],[1863,1901,1863,1882],[1882,1910,1863,1891],[1891,1996,1872,1977],[1977,2015,1882,1920],[1920,1939,1891,1920],[1920,1920,1825,1844],[1844,1853,1825,1847]];

// ===== TEXT =====
const titles = ['SPX Index','CCMP Index','HSI Index','USGG2YR In...','USGG10YR I...','USYC2Y10 I...','USDJPY Cur...','CL1 Comdty','CDX IG CDSI...','XAU Curncy','XBTUSD Cur...','XETUSD Cur...'];
const tLines = ['T=4138.1201 +1.8701 +0.05% 0...','T=12256.917 +21.5039 +0.18% ...','T=20297.0293 +247.7188 +1.24...','T=4.0012 +0.0872 +2.23% 05/08','T=3.5072 +0.0702 +2.04% 05/08','T=-49.8182 -1.7087 -3.55% 05/...','T=135.0715 -0.024 -0.02% 07:44','T=72.98 -0.18 -0.25% 07:33','T=81.3775 +0.8262 +1.03% 05/...','T=2021.6602 +0.5001 +0.02% 0...','T=27658.8516 +96.1465 +0.35%...','T=1846.5923 +5.0521 +0.27% 0...'];
const tUp = [true,true,true,true,true,false,false,false,false,true,true,true];
const tags = ['4138.12','12256.92','20297.03','4.0012','3.5072','-49.818','135.07','72.98','81.378','2021.66','27658.85','1846.592'];
const maLabel = 'MAvgs';
const yearLabel = '2023';

// ===== AXIS TICK VALUES =====
const spxYLabels = [3800,3900,4000,4100,4200], spxYTicks = [3800,3850,3900,3950,4000,4050,4100,4150,4200];
const ccmpYLabels = [11000,11500,12000], ccmpYTicks = [11000,11250,11500,11750,12000,12250];
const hsiYLabels = [19000,20000,21000], hsiYTicks = [19000,19500,20000,20500,21000,21500];
const usgg2YLabels = [3.5,4.0,4.5,5.0], usgg2YTicks = [3.5,3.75,4.0,4.25,4.5,4.75,5.0];
const usgg10YLabels = [3.5,4.0], usgg10YTicks = [3.25,3.5,3.75,4.0];
const usycYLabels = [-100,-50], usycYTicks = [-100,-75,-50,-25];
const jpyYLabels = [130,135], jpyYTicks = [130,132.5,135,137.5];
const cl1YLabels = [65,70,75,80,85], cl1YTicks = [62.5,65,67.5,70,72.5,75,77.5,80,82.5,85];
const cdxYLabels = [70,80,90], cdxYTicks = [70,75,80,85,90,95];
const xauYLabels = [1800,1900,2000], xauYTicks = [1800,1850,1900,1950,2000,2050];
const xbtYLabels = [20000,25000,30000], xbtYTicks = [20000,22500,25000,27500,30000];
const xetYLabels = [1400,1600,1800,2000,2200], xetYTicks = [1300,1400,1500,1600,1700,1800,1900,2000,2100,2200];

// ===== LAYOUT (pixels) =====
const panels = [
 {bars:spxBars, yMin:3767, yMax:4228, yl:spxYLabels, yt:spxYTicks, dec:0, L:6,R:348,top:40,bot:207,x0:8.3,x1:318.3, mt:[74,190,287], ml:[['Feb',38],['Mar',130],['Apr',238],['May',335]], vg:[74,190,287]},
 {bars:ccmpBars, yMin:10843, yMax:12385, yl:ccmpYLabels, yt:ccmpYTicks, dec:0, L:432,R:768,top:40,bot:207,x0:435,x1:737, mt:[498,613,706], ml:[['Feb',465],['Mar',553],['Apr',658],['May',752]], vg:[498,613,706]},
 {bars:hsiBars, yMin:18497, yMax:21952, yl:hsiYLabels, yt:hsiYTicks, dec:0, L:860,R:1193,top:40,bot:207,x0:863.3,x1:1165, mt:[933,1049,1137], ml:[['Feb',896],['Mar',990],['Apr',1092]], vg:[933,1049,1137]},
 {bars:usgg2Bars, yMin:3.376, yMax:5.244, yl:usgg2YLabels, yt:usgg2YTicks, dec:2, L:6,R:358,top:320,bot:486,x0:8.3,x1:328.3, mt:[76,195,293], ml:[['Feb',40],['Mar',133],['Apr',240]], vg:[76,195,293]},
 {bars:usgg10Bars, yMin:3.15, yMax:4.175, yl:usgg10YLabels, yt:usgg10YTicks, dec:2, L:432,R:785,top:320,bot:486,x0:433.3,x1:755, mt:[501.7,621,721.7], ml:[['Feb',466.7],['Mar',561.7],['Apr',670]], vg:[501.7,621,721.7]},
 {bars:usycBars, yMin:-121.4, yMax:-18.1, yl:usycYLabels, yt:usycYTicks, dec:0, L:860,R:1203,top:320,bot:486,x0:861.7,x1:1170, mt:[927.7,1044,1140.7], ml:[['Feb',891.7],['Mar',985],['Apr',1091.7],['May',1188.3]], vg:[927.7,1044,1140.7]},
 {bars:jpyBars, yMin:128.76, yMax:138.8, yl:jpyYLabels, yt:jpyYTicks, dec:0, L:6,R:358,top:598,bot:765,x0:6.7,x1:330, mt:[77.3,194,295.7], ml:[['Feb',41.7],['Mar',135],['Apr',248.3],['May',343.3]], vg:[77.3,194,295.7]},
 {bars:cl1Bars, yMin:61.5, yMax:85.4, yl:cl1YLabels, yt:cl1YTicks, dec:0, L:432,R:793,top:598,bot:765,x0:433.3,x1:766.7, mt:[501.7,625,730.7], ml:[['Feb',466.7],['Mar',561.7],['Apr',676.7]], vg:[501.7,625,730.7]},
 {bars:cdxBars, yMin:65.7, yMax:96.5, yl:cdxYLabels, yt:cdxYTicks, dec:0, L:860,R:1210,top:598,bot:765,x0:861.7,x1:1181.7, mt:[927.7,1045.7,1149.3], ml:[['Feb',891.7],['Mar',986.7],['Apr',1098.3],['May',1196.7]], vg:[927.7,1045.7,1149.3]},
 {bars:xauBars, yMin:1773.3, yMax:2094.8, yl:xauYLabels, yt:xauYTicks, dec:0, L:6,R:348,top:878,bot:1043,x0:8.3,x1:323.3, mt:[77.3,191.7,287.3], ml:[['Feb',40],['Mar',135],['Apr',240],['May',335]], vg:[77.3,191.7,287.3]},
 {bars:xbtBars, yMin:18182, yMax:32245, yl:xbtYLabels, yt:xbtYTicks, dec:0, L:432,R:768,top:878,bot:1043,x0:433.3,x1:740, mt:[501.7,606.7,711], ml:[['Mar',550]], vg:[606.7]},
 {bars:xetBars, yMin:1278.8, yMax:2217, yl:xetYLabels, yt:xetYTicks, dec:0, L:860,R:1193,top:878,bot:1043,x0:861.7,x1:1165, mt:[929,1035,1137.3], ml:[['Mar',981.7]], vg:[1035]}
];
const rowT = [23, 303, 582, 862];
const colPencil = [15, 442, 868], colTitle = [53, 478, 905], colSquare = [227, 652, 1082], colMA = [257, 683, 1110], colExpand = [390, 818, 1245], colT = [12, 438, 863];

const FONT = "'Liberation Sans', Arial, sans-serif";
const ORANGE = '#f0a23c', GREEN = '#45d04e', RED = '#e3343f', LABEL = '#e2e2e2';
const mctx = document.createElement('canvas').getContext('2d');
function textW(s, font) { mctx.font = font; return mctx.measureText(s).width; }

function renderOHLC(params, api) {
  const i = api.value(0), o = api.value(1), h = api.value(2), l = api.value(3), c = api.value(4);
  const hi = Math.max(h, o, c), lo = Math.min(l, o, c);
  const pt = api.coord([i, hi]), pb = api.coord([i, lo]);
  const yo = api.coord([i, o])[1], yc = api.coord([i, c])[1];
  const w = api.size([1, 0])[0];
  const t = Math.max(2, w * 0.5);
  const x = pt[0];
  const st = {stroke: '#ffffff', lineWidth: 2};
  return {type: 'group', children: [
    {type: 'line', shape: {x1: x, y1: pt[1] - 1, x2: x, y2: pb[1] + 1}, style: st},
    {type: 'line', shape: {x1: x - t, y1: yo, x2: x, y2: yo}, style: st},
    {type: 'line', shape: {x1: x, y1: yc, x2: x + t, y2: yc}, style: st}
  ]};
}
function renderHGrid(params, api) {
  const cs = params.coordSys; const y = api.coord([api.value(0), api.value(1)])[1];
  return {type: 'line', shape: {x1: cs.x, y1: y, x2: cs.x + cs.width, y2: y}, style: {stroke: '#9b9b9b', lineWidth: 1, lineDash: [4, 4]}};
}
function renderVGrid(params, api) {
  const cs = params.coordSys; const x = api.coord([api.value(0), api.value(1)])[0];
  return {type: 'line', shape: {x1: x, y1: cs.y, x2: x, y2: cs.y + cs.height}, style: {stroke: '#9b9b9b', lineWidth: 1, lineDash: [4, 4]}};
}
function renderMarker(params, api) {
  const cs = params.coordSys; const y = api.coord([api.value(0), api.value(1)])[1];
  const x = cs.x + cs.width + 1;
  return {type: 'polygon', shape: {points: [[x, y - 4.5], [x + 13, y], [x, y + 4.5]]}, style: {fill: '#f2f2f2'}};
}
function makeTagRenderer(text) {
  return function (params, api) {
    const cs = params.coordSys; const y = api.coord([api.value(0), api.value(1)])[1];
    const font = '16px ' + FONT;
    const x = cs.x + cs.width + 5; const w = textW(text, font) + 16; const h = 22;
    return {type: 'group', children: [
      {type: 'polygon', shape: {points: [[x, y], [x + 6, y - h / 2], [x + w, y - h / 2], [x + w, y + h / 2], [x + 6, y + h / 2]]}, style: {fill: '#ffffff', stroke: '#a0a0a0', lineWidth: 1}},
      {type: 'text', style: {x: x + 6 + (w - 6) / 2, y: y + 1, text: text, fill: '#000', font: font, align: 'center', verticalAlign: 'middle'}}
    ]};
  };
}
// split "..." into a narrower rich segment
function richEllipsis(s) {
  const parts = s.split('...');
  let out = '';
  parts.forEach((p, j) => { if (p) out += '{m|' + p + '}'; if (j < parts.length - 1) out += '{e|...}'; });
  return out;
}

const grids = [], xAxes = [], yAxes = [], series = [], graphics = [];
panels.forEach((P, k) => {
  const col = k % 3, row = Math.floor(k / 3);
  const N = P.bars.length;
  const p = (P.x1 - P.x0) / (N - 1);
  const toIdx = px => (px - P.x0) / p;
  const xmin = toIdx(P.L), xmax = toIdx(P.R);
  const labelIdx = P.ml.map(m => toIdx(m[1]));
  grids.push({left: P.L, top: P.top, width: P.R - P.L, height: P.bot - P.top, containLabel: false});
  xAxes.push({
    gridIndex: k, type: 'value', min: xmin, max: xmax,
    axisLine: {show: true, onZero: false, lineStyle: {color: '#ffffff', width: 2}},
    axisTick: {show: true, length: 6, customValues: P.mt.map(toIdx), lineStyle: {color: '#ffffff', width: 2}},
    axisLabel: {show: true, customValues: labelIdx, margin: 5, color: LABEL, fontSize: 16, fontFamily: FONT,
      formatter: v => { let b = 0, bd = 1e9; labelIdx.forEach((li, j) => { const d = Math.abs(li - v); if (d < bd) { bd = d; b = j; } }); return P.ml[b][0]; }},
    splitLine: {show: false},
    name: row < 3 ? yearLabel : '', nameLocation: 'middle', nameGap: 26,
    nameTextStyle: {color: LABEL, fontSize: 16, fontFamily: FONT}
  });
  yAxes.push({
    gridIndex: k, type: 'value', position: 'right', min: P.yMin, max: P.yMax,
    axisLine: {show: true, onZero: false, lineStyle: {color: '#ffffff', width: 2}},
    axisTick: {show: true, length: 6, customValues: P.yt, lineStyle: {color: '#ffffff', width: 2}},
    axisLabel: {show: true, customValues: P.yl, margin: 17, color: LABEL, fontSize: 16, fontFamily: FONT, formatter: v => Number(v).toFixed(P.dec)},
    splitLine: {show: false}
  });
  const xm = (xmin + xmax) / 2, ym = (P.yMin + P.yMax) / 2;
  series.push({type: 'custom', xAxisIndex: k, yAxisIndex: k, z: 1, silent: true, animation: false, renderItem: renderHGrid, encode: {x: 0, y: 1}, data: P.yl.map(v => [xm, v])});
  series.push({type: 'custom', xAxisIndex: k, yAxisIndex: k, z: 1, silent: true, animation: false, renderItem: renderVGrid, encode: {x: 0, y: 1}, data: P.vg.map(px => [toIdx(px), ym])});
  series.push({type: 'custom', xAxisIndex: k, yAxisIndex: k, z: 3, silent: true, animation: false, renderItem: renderOHLC,
    dimensions: ['i', 'o', 'h', 'l', 'c'], encode: {x: 0, y: [1, 2, 3, 4]}, data: P.bars.map((b, i) => [i, b[0], b[1], b[2], b[3]])});
  series.push({type: 'custom', xAxisIndex: k, yAxisIndex: k, z: 3, silent: true, animation: false, renderItem: renderMarker, encode: {x: 0, y: 1}, data: P.yl.map(v => [xm, v])});
  const last = P.bars[N - 1];
  series.push({type: 'custom', xAxisIndex: k, yAxisIndex: k, z: 6, silent: true, animation: false, renderItem: makeTagRenderer(tags[k]), encode: {x: 0, y: 1}, data: [[N - 1, last[3]]]});

  // header
  const hy = rowT[row] - 33;
  const px = colPencil[col], py = hy - 11;
  graphics.push({type: 'group', x: px, y: py, silent: true, children: [
    {type: 'polygon', shape: {points: [[2.4, 14.4], [18.4, -1.6], [23.6, 3.6], [7.6, 19.6]]}, style: {fill: '#d6d6d6'}},
    {type: 'polygon', shape: {points: [[1.6, 15.6], [0, 22], [6.4, 20.4]]}, style: {fill: '#d6d6d6'}}
  ]});
  graphics.push({type: 'text', x: colTitle[col], y: hy, silent: true, style: {text: titles[k], fill: ORANGE, font: '23px ' + FONT, verticalAlign: 'middle'}});
  graphics.push({type: 'rect', silent: true, shape: {x: colSquare[col], y: hy - 8, width: 17, height: 16}, style: {fill: '#5a5a5a'}});
  graphics.push({type: 'text', x: colMA[col], y: hy, silent: true, style: {text: maLabel, fill: ORANGE, font: '23px ' + FONT, verticalAlign: 'middle'}});
  const ex = colExpand[col], ey = hy - 13;
  graphics.push({type: 'group', x: ex, y: ey, silent: true, children: [
    {type: 'line', shape: {x1: 15, y1: 11, x2: 21, y2: 5}, style: {stroke: '#cfcfcf', lineWidth: 3}},
    {type: 'polygon', shape: {points: [[26, 0], [15, 2], [24, 11]]}, style: {fill: '#cfcfcf'}},
    {type: 'line', shape: {x1: 5, y1: 21, x2: 11, y2: 15}, style: {stroke: '#cfcfcf', lineWidth: 3}},
    {type: 'polygon', shape: {points: [[0, 26], [2, 15], [11, 24]]}, style: {fill: '#cfcfcf'}}
  ]});
  const tc = tUp[k] ? GREEN : RED;
  graphics.push({type: 'text', x: colT[col], y: rowT[row], silent: true, style: {
    text: richEllipsis(tLines[k]), verticalAlign: 'middle',
    rich: {m: {fill: tc, fontSize: 27, fontFamily: FONT, verticalAlign: 'middle'}, e: {fill: tc, fontSize: 19, fontFamily: FONT, verticalAlign: 'bottom', padding: [0, 0, 3, 0]}}
  }});
});

const chart = echarts.init(document.getElementById('c'), null, {renderer: 'canvas', width: 1280, height: 1061});
chart.setOption({
  backgroundColor: '#000000', animation: false,
  grid: grids, xAxis: xAxes, yAxis: yAxes, series: series, graphic: graphics
});
</script>
</body></html>
